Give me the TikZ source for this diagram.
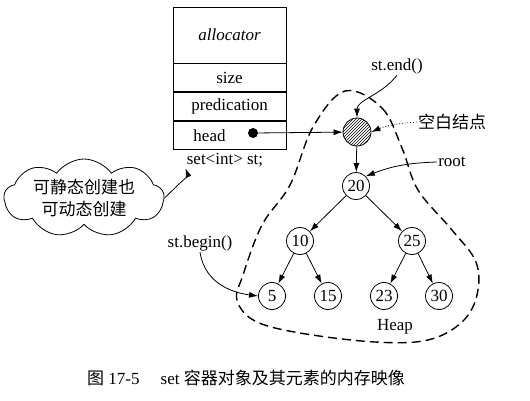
\documentclass[tikz,border=0pt]{standalone}
\usepackage{fontspec}
\setmainfont{Liberation Serif}
\newfontfamily\cjk{Noto Sans CJK SC}
\usetikzlibrary{arrows.meta}
\usetikzlibrary{positioning}
\usetikzlibrary{shapes.symbols}
\usetikzlibrary{patterns}
\tikzset{
	field/.style = {draw, minimum width=113pt, minimum height=28pt, inner sep=0pt},
	elem/.style = {circle, draw, minimum size=27pt, inner sep=0pt},
	note/.style = {inner sep=1pt},
	heap/.style = {line width=1.4pt, dash pattern=on 9pt off 5pt}
}

\begin{document}
\begin{tikzpicture}[x=1pt, y=-1pt, line width=0.8pt, >={Latex[length=9pt, width=6pt]}, font=\fontsize{17}{20}\selectfont]

	\useasboundingbox (0,0) rectangle (530,400);

	% heap region
	\draw[heap] plot[smooth cycle, tension=0.6] coordinates {(345,91) (382,108) (402,148) (418,190) (452,230) (476,262) (477,295) (462,322) (428,340) (375,342) (300,333) (255,321) (237,300) (243,275) (262,225) (290,185) (313,127)};

	% set object
	\node[field, minimum height=56pt] (alloc) at (229.5,35) {\itshape allocator};
	\node[field, below=0pt of alloc] (size) {size};
	\node[field, below=0pt of size] (pred) {predication};
	\node[field, below=0pt of pred] (head) {head\hspace*{40pt}};
	\node[circle, fill, inner sep=0pt, minimum size=10pt] (dot) at (253,133) {};
	\node[note] (decl) at (225,160) {set<int> st;};

	\node[cloud, draw, cloud puffs=9, cloud puff arc=110, aspect=2.2, minimum width=160pt, minimum height=78pt, align=center, inner sep=-8pt] (cloud) at (84,198) {\cjk 可静态创建也\\[2pt]\cjk 可动态创建};

	% tree
	\node[elem, pattern=north east lines, minimum size=28pt] (hdr) at (357,132) {};
	\node[elem] (n20) at (356,186) {20};
	\node[elem] (n10) at (300,241) {10};
	\node[elem] (n25) at (412,241) {25};
	\node[elem] (n5) at (272,296) {5};
	\node[elem] (n15) at (328,296) {15};
	\node[elem] (n23) at (384,296) {23};
	\node[elem] (n30) at (439,296) {30};

	\node[note] (endlbl) at (397,66) {st.end()};
	\node[note] (blank) at (452,122) {\cjk 空白结点};
	\node[note] (root) at (452,162) {root};
	\node[note] (beginlbl) at (200,243) {st.begin()};
	\node[note] (heaplbl) at (395,327) {Heap};

	\draw[->] (dot) -- (hdr);
	\draw[->] (hdr) -- (n20);
	\draw[->] (n20) -- (n10);
	\draw[->] (n20) -- (n25);
	\draw[->] (n10) -- (n5);
	\draw[->] (n10) -- (n15);
	\draw[->] (n25) -- (n23);
	\draw[->] (n25) -- (n30);

	% pointers
	\draw[->] (endlbl.south) .. controls (382,95) and (357,100) .. (hdr.north);
	\draw[->, dotted] (blank.west) .. controls (400,123) and (385,126) .. (hdr.east);
	\draw[->] (root.west) .. controls (405,163) and (390,167) .. (n20.north east);
	\draw[->] (beginlbl.south) .. controls (205,285) and (235,293) .. (n5.west);
	\draw[->] (cloud.east) .. controls (178,185) and (188,175) .. (decl.south west);

	% caption
	\node[note] (caption) at (246,378) {{\cjk 图} 17-5\quad\ set {\cjk 容器对象及其元素的内存映像}};

\end{tikzpicture}
\end{document}
